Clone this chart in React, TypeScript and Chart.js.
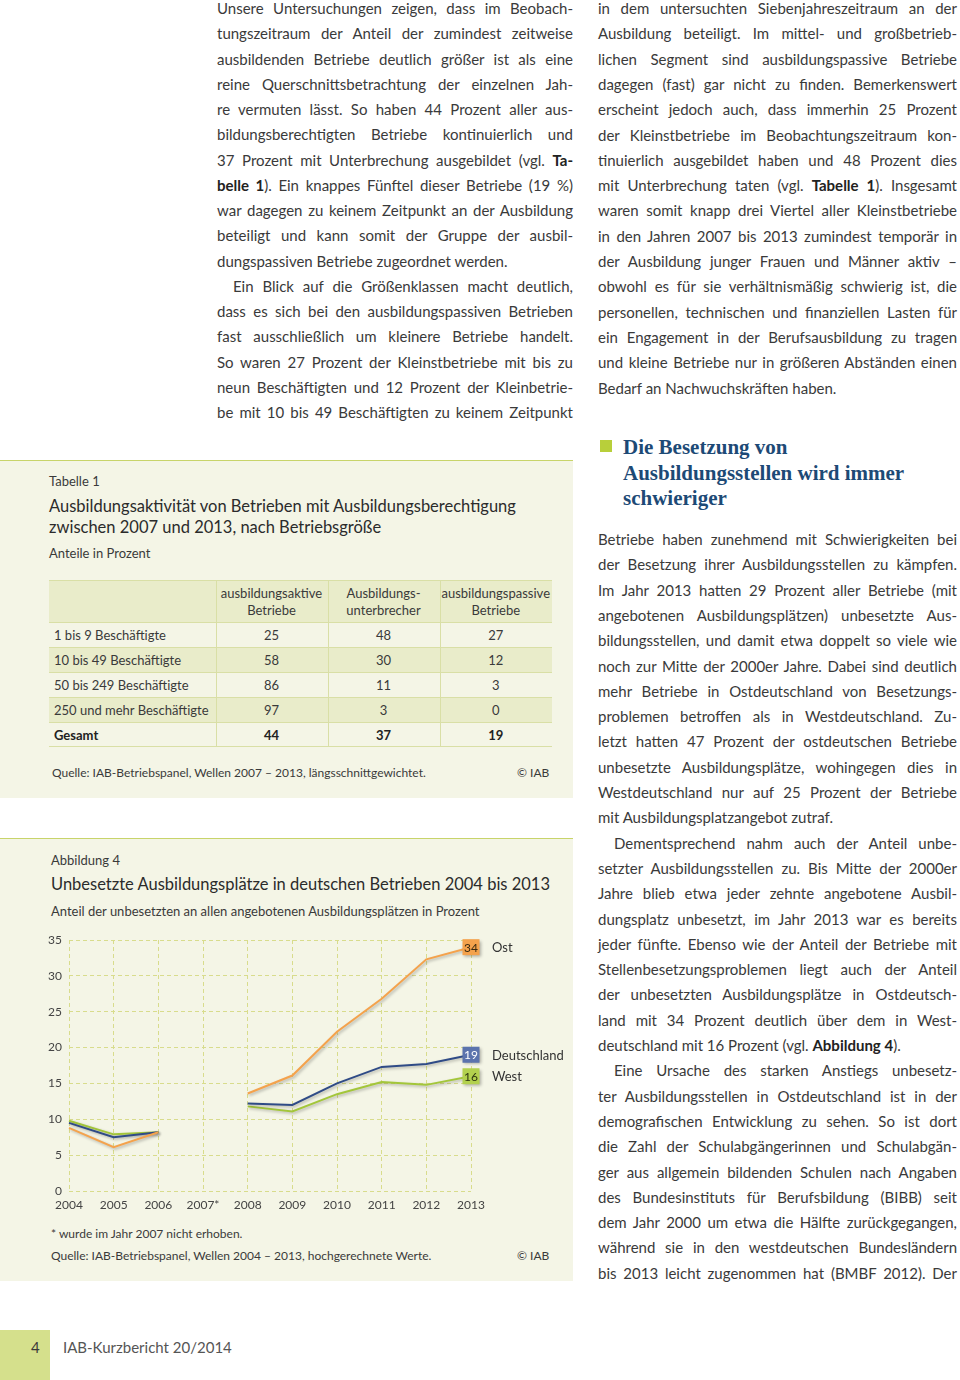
import React, { useEffect, useRef } from 'react';
import { Chart, registerables } from 'chart.js';

Chart.register(...registerables);

// ---------- chart data ----------
const years = ['2004', '2005', '2006', '2007*', '2008', '2009', '2010', '2011', '2012', '2013'];
const ostValues = [8.8, 6.1, 8.2, null, 13.6, 16.1, 22.2, 26.8, 32.3, 34];
const deutschlandValues = [9.5, 7.5, 8.2, null, 12.2, 12.0, 15.0, 17.3, 17.7, 19];
const westValues = [9.8, 7.9, 8.2, null, 11.8, 11.1, 13.5, 15.2, 14.8, 16];
const seriesNames = ['Ost', 'Deutschland', 'West'];
const yMin = 0;
const yMax = 35;
const yStep = 5;

// ---------- table data ----------
const tableHeaders = [['ausbildungsaktive', 'Betriebe'], ['Ausbildungs-', 'unterbrecher'], ['ausbildungspassive', 'Betriebe']];
const sizeClasses = ['1 bis 9 Beschäftigte', '10 bis 49 Beschäftigte', '50 bis 249 Beschäftigte', '250 und mehr Beschäftigte', 'Gesamt'];
const aktive = [25, 58, 86, 97, 44];
const unterbrecher = [48, 30, 11, 3, 37];
const passive = [27, 12, 3, 0, 19];

// ---------- text ----------
type Line = { t: string; end?: boolean; indent?: boolean };
const middleColumn: Line[] = [
  { t: 'Unsere Untersuchungen zeigen, dass im Beobach-' },
  { t: 'tungszeitraum der Anteil der zumindest zeitweise' },
  { t: 'ausbildenden Betriebe deutlich größer ist als eine' },
  { t: 'reine Querschnittsbetrachtung der einzelnen Jah-' },
  { t: 're vermuten lässt. So haben 44 Prozent aller aus-' },
  { t: 'bildungsberechtigten Betriebe kontinuierlich und' },
  { t: '37 Prozent mit Unterbrechung ausgebildet (vgl. **Ta-**' },
  { t: '**belle 1**). Ein knappes Fünftel dieser Betriebe (19 %)' },
  { t: 'war dagegen zu keinem Zeitpunkt an der Ausbildung' },
  { t: 'beteiligt und kann somit der Gruppe der ausbil-' },
  { t: 'dungspassiven Betriebe zugeordnet werden.', end: true },
  { t: 'Ein Blick auf die Größenklassen macht deutlich,', indent: true },
  { t: 'dass es sich bei den ausbildungspassiven Betrieben' },
  { t: 'fast ausschließlich um kleinere Betriebe handelt.' },
  { t: 'So waren 27 Prozent der Kleinstbetriebe mit bis zu' },
  { t: 'neun Beschäftigten und 12 Prozent der Kleinbetrie-' },
  { t: 'be mit 10 bis 49 Beschäftigten zu keinem Zeitpunkt' },
];
const rightColumnTop: Line[] = [
  { t: 'in dem untersuchten Siebenjahreszeitraum an der' },
  { t: 'Ausbildung beteiligt. Im mittel- und großbetrieb-' },
  { t: 'lichen Segment sind ausbildungspassive Betriebe' },
  { t: 'dagegen (fast) gar nicht zu finden. Bemerkenswert' },
  { t: 'erscheint jedoch auch, dass immerhin 25 Prozent' },
  { t: 'der Kleinstbetriebe im Beobachtungszeitraum kon-' },
  { t: 'tinuierlich ausgebildet haben und 48 Prozent dies' },
  { t: 'mit Unterbrechung taten (vgl. **Tabelle 1**). Insgesamt' },
  { t: 'waren somit knapp drei Viertel aller Kleinstbetriebe' },
  { t: 'in den Jahren 2007 bis 2013 zumindest temporär in' },
  { t: 'der Ausbildung junger Frauen und Männer aktiv –' },
  { t: 'obwohl es für sie verhältnismäßig schwierig ist, die' },
  { t: 'personellen, technischen und finanziellen Lasten für' },
  { t: 'ein Engagement in der Berufsausbildung zu tragen' },
  { t: 'und kleine Betriebe nur in größeren Abständen einen' },
  { t: 'Bedarf an Nachwuchskräften haben.', end: true },
];
const headingLines = ['Die Besetzung von', 'Ausbildungsstellen wird immer', 'schwieriger'];
const rightColumnBottom: Line[] = [
  { t: 'Betriebe haben zunehmend mit Schwierigkeiten bei' },
  { t: 'der Besetzung ihrer Ausbildungsstellen zu kämpfen.' },
  { t: 'Im Jahr 2013 hatten 29 Prozent aller Betriebe (mit' },
  { t: 'angebotenen Ausbildungsplätzen) unbesetzte Aus-' },
  { t: 'bildungsstellen, und damit etwa doppelt so viele wie' },
  { t: 'noch zur Mitte der 2000er Jahre. Dabei sind deutlich' },
  { t: 'mehr Betriebe in Ostdeutschland von Besetzungs-' },
  { t: 'problemen betroffen als in Westdeutschland. Zu-' },
  { t: 'letzt hatten 47 Prozent der ostdeutschen Betriebe' },
  { t: 'unbesetzte Ausbildungsplätze, wohingegen dies in' },
  { t: 'Westdeutschland nur auf 25 Prozent der Betriebe' },
  { t: 'mit Ausbildungsplatzangebot zutraf.', end: true },
  { t: 'Dementsprechend nahm auch der Anteil unbe-', indent: true },
  { t: 'setzter Ausbildungsstellen zu. Bis Mitte der 2000er' },
  { t: 'Jahre blieb etwa jeder zehnte angebotene Ausbil-' },
  { t: 'dungsplatz unbesetzt, im Jahr 2013 war es bereits' },
  { t: 'jeder fünfte. Ebenso wie der Anteil der Betriebe mit' },
  { t: 'Stellenbesetzungsproblemen liegt auch der Anteil' },
  { t: 'der unbesetzten Ausbildungsplätze in Ostdeutsch-' },
  { t: 'land mit 34 Prozent deutlich über dem in West-' },
  { t: 'deutschland mit 16 Prozent (vgl. **Abbildung 4**).', end: true },
  { t: 'Eine Ursache des starken Anstiegs unbesetz-', indent: true },
  { t: 'ter Ausbildungsstellen in Ostdeutschland ist in der' },
  { t: 'demografischen Entwicklung zu sehen. So ist dort' },
  { t: 'die Zahl der Schulabgängerinnen und Schulabgän-' },
  { t: 'ger aus allgemein bildenden Schulen nach Angaben' },
  { t: 'des Bundesinstituts für Berufsbildung (BIBB) seit' },
  { t: 'dem Jahr 2000 um etwa die Hälfte zurückgegangen,' },
  { t: 'während sie in den westdeutschen Bundesländern' },
  { t: 'bis 2013 leicht zugenommen hat (BMBF 2012). Der' },
];

const FONT = 'Lato, "Open Sans", sans-serif';
const TEXT = '#3a3a3a';
const PANEL = '#f4f5e6';
const SHADE = '#e9ecca';
const RULE = '#d9dfa6';
const GRID = '#d8dc8c';

function renderRich(s: string) {
  const parts = s.split('**');
  return parts.map((p, i) => (i % 2 === 1 ? <b key={i} style={{ color: '#222' }}>{p}</b> : <React.Fragment key={i}>{p}</React.Fragment>));
}

function Column({ lines, x, width, y0, step }: { lines: Line[]; x: number; width: number; y0: number; step: number }) {
  return (
    <>
      {lines.map((ln, i) => {
        const ind = ln.indent ? 16 : 0;
        return (
          <div
            key={i}
            style={{
              position: 'absolute',
              left: x + ind,
              top: y0 + i * step - 12,
              width: width - ind,
              height: 24,
              lineHeight: '24px',
              fontSize: 15,
              color: TEXT,
              whiteSpace: 'nowrap',
              textAlign: ln.end ? 'left' : 'justify',
              textAlignLast: ln.end ? 'left' : 'justify',
            } as React.CSSProperties}
          >
            {renderRich(ln.t)}
          </div>
        );
      })}
    </>
  );
}

function T({ x, y, size, children, style }: { x: number; y: number; size: number; children: React.ReactNode; style?: React.CSSProperties }) {
  return (
    <div style={{ position: 'absolute', left: x, top: y - size * 0.7, fontSize: size, lineHeight: `${size * 1.4}px`, whiteSpace: 'nowrap', color: TEXT, ...style }}>
      {children}
    </div>
  );
}

function LineChart() {
  const ref = useRef<HTMLCanvasElement>(null);
  useEffect(() => {
    if (!ref.current) return;
    const shadow = {
      id: 'lineShadow',
      beforeDatasetDraw(chart: any) {
        const c = chart.ctx;
        c.save();
        c.shadowColor = 'rgba(0,0,0,0.28)';
        c.shadowBlur = 3;
        c.shadowOffsetX = 1.5;
        c.shadowOffsetY = 1.5;
      },
      afterDatasetDraw(chart: any) {
        chart.ctx.restore();
      },
    };
    const endLabels = {
      id: 'endLabels',
      afterDatasetsDraw(chart: any) {
        const ctx = chart.ctx;
        chart.data.datasets.forEach((ds: any, i: number) => {
          const meta = chart.getDatasetMeta(i);
          const pt = meta.data[meta.data.length - 1];
          const v = ds.data[ds.data.length - 1];
          ctx.save();
          ctx.shadowColor = 'rgba(0,0,0,0.3)';
          ctx.shadowBlur = 3;
          ctx.shadowOffsetX = 1.5;
          ctx.shadowOffsetY = 1.5;
          ctx.fillStyle = ds.boxColor;
          ctx.fillRect(pt.x - 8.5, pt.y - 8, 17, 16);
          ctx.restore();
          ctx.save();
          ctx.fillStyle = ds.boxTextColor;
          ctx.font = `12px ${FONT}`;
          ctx.textAlign = 'center';
          ctx.textBaseline = 'middle';
          ctx.fillText(String(Math.round(v)), pt.x, pt.y + 0.5);
          ctx.fillStyle = '#333';
          ctx.font = `13px ${FONT}`;
          ctx.textAlign = 'left';
          ctx.fillText(ds.label, pt.x + 21, pt.y + 1);
          ctx.restore();
        });
      },
    };
    const chart = new Chart(ref.current, {
      type: 'line',
      data: {
        labels: years,
        datasets: [
          { label: seriesNames[0], data: ostValues, borderColor: '#f4a24c', boxColor: '#f4a24c', boxTextColor: '#3a2a10', borderWidth: 2, pointRadius: 0, spanGaps: false } as any,
          { label: seriesNames[1], data: deutschlandValues, borderColor: '#2f4b86', boxColor: '#5b73ad', boxTextColor: '#ffffff', borderWidth: 2, pointRadius: 0, spanGaps: false } as any,
          { label: seriesNames[2], data: westValues, borderColor: '#a3c63a', boxColor: '#b3d14e', boxTextColor: '#2d3510', borderWidth: 2, pointRadius: 0, spanGaps: false } as any,
        ],
      },
      options: {
        responsive: false,
        animation: false,
        devicePixelRatio: 1,
        layout: { padding: { top: 15, right: 109, bottom: 0, left: 0 } },
        plugins: { legend: { display: false }, tooltip: { enabled: false } },
        scales: {
          x: {
            offset: false,
            grid: { color: GRID, lineWidth: 1, drawTicks: false },
            border: { display: false, dash: [4, 3] },
            ticks: { color: '#444', font: { family: FONT, size: 12 }, padding: 7, maxRotation: 0, autoSkip: false },
            afterFit(s: any) { s.height = 34; },
          },
          y: {
            min: yMin,
            max: yMax,
            grid: { color: GRID, lineWidth: 1, drawTicks: false },
            border: { display: false, dash: [4, 3] },
            ticks: { stepSize: yStep, color: '#444', font: { family: FONT, size: 12 }, padding: 7 },
            afterFit(s: any) { s.width = 29; },
          },
        },
      },
      plugins: [shadow, endLabels],
    } as any);
    return () => chart.destroy();
  }, []);
  return <canvas ref={ref} width={540} height={300} style={{ position: 'absolute', left: 40, top: 925, width: 540, height: 300 }} />;
}

function DataTable() {
  const colW = [167, 112, 112, 112];
  const rowH = 25;
  const cell = (i: number): React.CSSProperties => ({
    borderLeft: i > 0 ? `1px solid ${RULE}` : 'none',
    textAlign: i === 0 ? 'left' : 'center',
    paddingLeft: i === 0 ? 5 : 0,
    width: colW[i],
    boxSizing: 'border-box',
  });
  return (
    <table
      style={{
        position: 'absolute', left: 49, top: 580, width: 503, borderCollapse: 'collapse',
        fontSize: 13, color: TEXT, fontFamily: FONT, tableLayout: 'fixed',
      }}
    >
      <tbody>
        <tr style={{ background: SHADE, height: 42, borderTop: `1px solid ${RULE}`, borderBottom: `1px solid ${RULE}` }}>
          <td style={cell(0)}></td>
          {tableHeaders.map((h, i) => (
            <td key={i} style={{ ...cell(i + 1), lineHeight: '17px', paddingTop: 2 }}>
              {h[0]}<br />{h[1]}
            </td>
          ))}
        </tr>
        {sizeClasses.map((name, r) => {
          const bold = r === sizeClasses.length - 1;
          return (
            <tr key={r} style={{ background: r % 2 === 1 ? SHADE : 'transparent', height: r === 4 ? 24 : rowH, borderBottom: `1px solid ${RULE}`, fontWeight: bold ? 700 : 400, color: bold ? '#222' : TEXT }}>
              <td style={cell(0)}>{name}</td>
              <td style={cell(1)}>{aktive[r]}</td>
              <td style={cell(2)}>{unterbrecher[r]}</td>
              <td style={cell(3)}>{passive[r]}</td>
            </tr>
          );
        })}
      </tbody>
    </table>
  );
}

export default function App() {
  return (
    <div style={{ position: 'relative', width: 960, height: 1380, background: '#fff', fontFamily: FONT, overflow: 'hidden' }}>
      <style>{'body{margin:0}'}</style>

      {/* text columns */}
      <Column lines={middleColumn} x={217} width={356} y0={8} step={25.25} />
      <Column lines={rightColumnTop} x={598} width={359} y0={8} step={25.3} />
      <Column lines={rightColumnBottom} x={598} width={359} y0={539} step={25.3} />

      {/* heading */}
      <div style={{ position: 'absolute', left: 600, top: 440, width: 12, height: 12, background: '#b8cf3a' }} />
      {headingLines.map((h, i) => (
        <div key={i} style={{ position: 'absolute', left: 623, top: 447 + i * 25.5 - 13, fontSize: 21, lineHeight: '26px', fontFamily: '"Liberation Serif", serif', fontWeight: 600, color: '#1d4a76', whiteSpace: 'nowrap' }}>
          {h}
        </div>
      ))}

      {/* table panel */}
      <div style={{ position: 'absolute', left: 0, top: 460, width: 573, height: 337, background: PANEL, borderTop: '1.5px solid #c8d46a' }} />
      <T x={49} y={481} size={13}>Tabelle 1</T>
      <T x={49} y={507} size={16.5} style={{ color: '#2b2b2b' }}>Ausbildungsaktivität von Betrieben mit Ausbildungsberechtigung</T>
      <T x={49} y={528} size={16.5} style={{ color: '#2b2b2b' }}>zwischen 2007 und 2013, nach Betriebsgröße</T>
      <T x={49} y={553} size={13}>Anteile in Prozent</T>
      <DataTable />
      <T x={52} y={773} size={12}>Quelle: IAB-Betriebspanel, Wellen 2007 – 2013, längsschnittgewichtet.</T>
      <T x={517} y={773} size={12}>© IAB</T>

      {/* chart panel */}
      <div style={{ position: 'absolute', left: 0, top: 838, width: 573, height: 442, background: PANEL, borderTop: '1.5px solid #c8d46a' }} />
      <T x={51} y={860} size={13}>Abbildung 4</T>
      <T x={51} y={885} size={16.5} style={{ color: '#2b2b2b' }}>Unbesetzte Ausbildungsplätze in deutschen Betrieben 2004 bis 2013</T>
      <T x={51} y={911} size={13}>Anteil der unbesetzten an allen angebotenen Ausbildungsplätzen in Prozent</T>
      <LineChart />
      <T x={51} y={1234} size={12}>* wurde im Jahr 2007 nicht erhoben.</T>
      <T x={51} y={1256} size={12}>Quelle: IAB-Betriebspanel, Wellen 2004 – 2013, hochgerechnete Werte.</T>
      <T x={517} y={1256} size={12}>© IAB</T>

      {/* footer */}
      <div style={{ position: 'absolute', left: 0, top: 1330, width: 50, height: 50, background: '#d5e08c' }} />
      <T x={31} y={1347} size={15}>4</T>
      <T x={63} y={1347} size={15} style={{ color: '#555' }}>IAB-Kurzbericht 20/2014</T>
    </div>
  );
}
